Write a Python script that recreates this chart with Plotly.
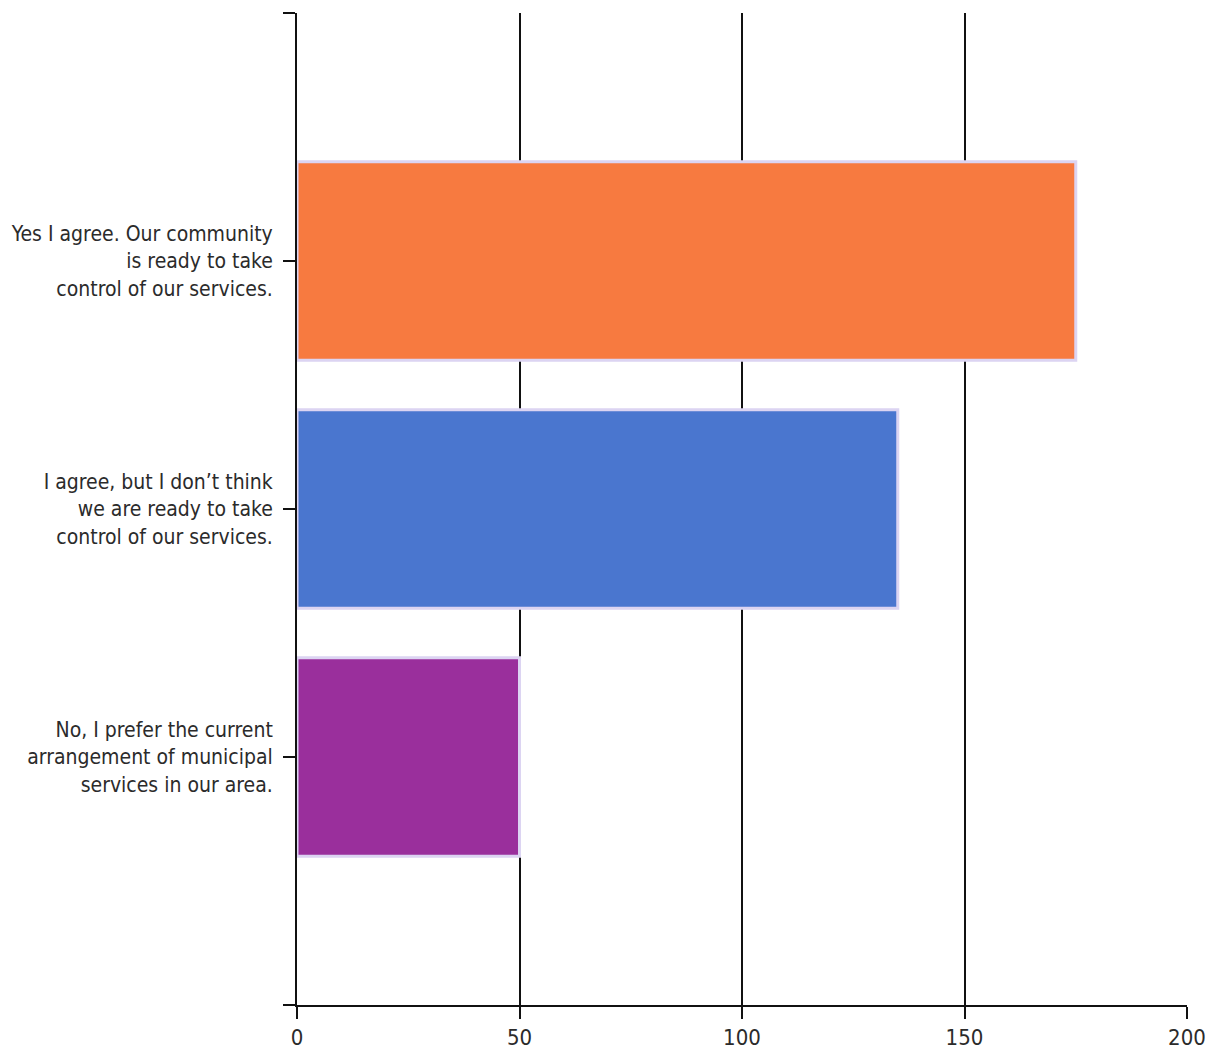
import plotly.graph_objects as go

categories = [
    "Yes I agree. Our community<br>is ready to take<br>control of our services.",
    "I agree, but I don’t think<br>we are ready to take<br>control of our services.",
    "No, I prefer the current<br>arrangement of municipal<br>services in our area.",
]
values = [175, 135, 50]
colors = ["#f77a40", "#4a76cf", "#9a2f9c"]
x_ticks = [0, 50, 100, 150, 200]

positions = list(range(len(categories)))

fig = go.Figure()
fig.add_trace(go.Bar(
    x=values,
    y=positions,
    orientation="h",
    width=0.8,
    marker=dict(color=colors, line=dict(color="#dcd4f2", width=3)),
    showlegend=False,
    hoverinfo="x",
))

font_family = "DejaVu Sans Condensed, Liberation Sans Narrow, Liberation Sans, sans-serif"

fig.update_layout(
    width=1215,
    height=1049,
    margin=dict(l=297, r=28, t=13, b=44, autoexpand=False),
    paper_bgcolor="white",
    plot_bgcolor="white",
    font=dict(family=font_family, size=21, color="#2b2b2b"),
    bargap=0.2,
)

fig.update_xaxes(
    range=[0, 200],
    tickvals=x_ticks,
    ticktext=[str(v) for v in x_ticks],
    showgrid=True,
    gridcolor="#111111",
    gridwidth=2,
    zeroline=False,
    showline=True,
    linecolor="#111111",
    linewidth=2,
    ticks="outside",
    ticklen=12,
    tickwidth=2,
    tickcolor="#111111",
    automargin=False,
    tickfont=dict(family=font_family, size=22, color="#2b2b2b"),
)

fig.update_yaxes(
    range=[3, -1],
    tickvals=[-1] + positions + [3],
    ticktext=[""] + categories + [""],
    showgrid=False,
    zeroline=False,
    showline=True,
    linecolor="#111111",
    linewidth=2,
    ticks="outside",
    ticklen=12,
    tickwidth=2,
    tickcolor="#111111",
    ticklabelstandoff=6,
    automargin=False,
    tickfont=dict(family=font_family, size=21, color="#2b2b2b"),
)

fig.write_html("out.html")
